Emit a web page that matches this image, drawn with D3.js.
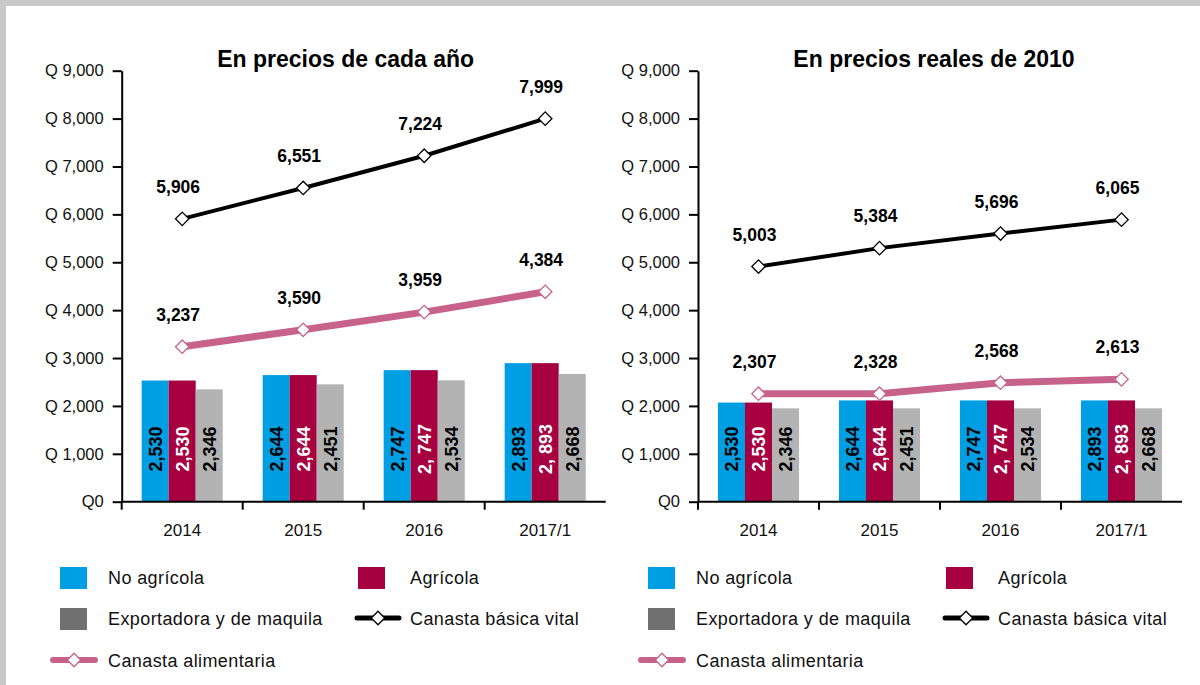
<!DOCTYPE html>
<html>
<head>
<meta charset="utf-8">
<script src="https://cdn.jsdelivr.net/npm/d3@7"></script>
<style>
    body { margin: 0; background: #fff; }
    svg { display: block; font-family: "Liberation Sans", Arial, sans-serif; }
</style>
</head>
<body>
<div id="chart"></div>
<script>
// categories and legend names
const years = ["2014", "2015", "2016", "2017/1"];
const barKeys = ["No agrícola", "Agrícola", "Exportadora y de maquila"];
const lineKeys = ["Canasta básica vital", "Canasta alimentaria"];
const yTicks = [0, 1000, 2000, 3000, 4000, 5000, 6000, 7000, 8000, 9000];

// printed bar labels (same in both panels)
const noAgricolaLabels = ["2,530", "2,644", "2,747", "2,893"];
const agricolaLabels = ["2,530", "2,644", "2, 747", "2, 893"];
const exportadoraLabels = ["2,346", "2,451", "2,534", "2,668"];

// left panel: current prices
const nominalNoAgricola = [2530, 2644, 2747, 2893];
const nominalAgricola = [2530, 2644, 2747, 2893];
const nominalExportadora = [2346, 2451, 2534, 2668];
const nominalBasicaVital = [5906, 6551, 7224, 7999];
const nominalAlimentaria = [3237, 3590, 3959, 4384];

// right panel: 2010 prices, marks as drawn
const realNoAgricola = [2070, 2115, 2115, 2115];
const realAgricola = [2070, 2115, 2115, 2115];
const realExportadora = [1950, 1950, 1950, 1950];
const realBasicaVital = [4910, 5295, 5600, 5890];
const realAlimentaria = [2255, 2255, 2485, 2555];
// right panel: printed values above the lines
const realBasicaVitalLabels = [5003, 5384, 5696, 6065];
const realAlimentariaLabels = [2307, 2328, 2568, 2613];

const colors = {
    "No agrícola": "#009ee2",
    "Agrícola": "#a60041",
    "Exportadora y de maquila": "#b3b3b3",
    "Canasta básica vital": "#000000",
    "Canasta alimentaria": "#c7628b"
};
const labelColors = ["#000", "#fff", "#000"];

const svg = d3.select("#chart").append("svg")
    .attr("width", 1200)
    .attr("height", 685);

// gray frame on the top and left
svg.append("rect").attr("x", 0).attr("y", 0).attr("width", 1200).attr("height", 6).attr("fill", "#c8c8c8");
svg.append("rect").attr("x", 0).attr("y", 0).attr("width", 6).attr("height", 685).attr("fill", "#c8c8c8");

const fmt = d3.format(",");

function drawPanel(opts) {
    const height = 431;
    const width = 484;

    const g = svg.append("g")
        .attr("transform", "translate(" + opts.left + "," + 70.7 + ")");

    const y = d3.scaleLinear().domain([0, 9000]).range([height, 0]);
    const x0 = d3.scaleBand().domain(years).range([0, width]);
    const bw = x0.bandwidth();
    const x1 = d3.scaleBand().domain(barKeys).range([bw * 0.165, bw * 0.835]);

    // title
    g.append("text")
        .attr("x", opts.titleX)
        .attr("y", -4)
        .attr("text-anchor", "middle")
        .style("font-size", "23px")
        .style("font-weight", "bold")
        .text(opts.title);

    // bars
    const barData = years.map((yr, i) => ({
        year: yr,
        values: barKeys.map((k, j) => ({ key: k, j: j, value: opts.bars[j][i], label: opts.barLabels[j][i] }))
    }));

    const groups = g.selectAll(".grp")
        .data(barData)
        .enter().append("g")
        .attr("transform", d => "translate(" + x0(d.year) + ",0)");

    groups.selectAll("rect")
        .data(d => d.values)
        .enter().append("rect")
        .attr("x", d => x1(d.key))
        .attr("y", d => y(d.value))
        .attr("width", x1.bandwidth())
        .attr("height", d => height - y(d.value))
        .attr("fill", d => colors[d.key]);

    groups.selectAll(".barlabel")
        .data(d => d.values)
        .enter().append("text")
        .attr("transform", d => "translate(" + (x1(d.key) + x1.bandwidth() / 2 + 6.5) + "," + y(1100) + ") rotate(-90)")
        .attr("text-anchor", "middle")
        .style("font-size", "18px")
        .style("font-weight", "bold")
        .attr("fill", d => labelColors[d.j])
        .text(d => d.label);

    // y axis
    const yAxis = g.append("g")
        .call(d3.axisLeft(y).tickValues(yTicks).tickSize(9).tickSizeOuter(0).tickPadding(9)
            .tickFormat(d => d === 0 ? "Q0" : "Q " + fmt(d)));
    yAxis.select(".domain").attr("stroke", "#000").attr("stroke-width", 2);
    yAxis.selectAll(".tick line").attr("stroke", "#000").attr("stroke-width", 2);
    yAxis.selectAll(".tick text")
        .attr("fill", "#111")
        .style("font-size", "16.5px")
        .style("font-family", "'Liberation Sans', Arial, sans-serif");

    // x axis, ticks on band edges
    g.append("line")
        .attr("x1", 0).attr("x2", width)
        .attr("y1", height).attr("y2", height)
        .attr("stroke", "#000").attr("stroke-width", 2);
    g.selectAll(".xtick")
        .data(years)
        .enter().append("line")
        .attr("x1", d => x0(d)).attr("x2", d => x0(d))
        .attr("y1", height).attr("y2", height + 8)
        .attr("stroke", "#000").attr("stroke-width", 2);
    g.selectAll(".xlabel")
        .data(years)
        .enter().append("text")
        .attr("x", d => x0(d) + bw / 2)
        .attr("y", height + 34)
        .attr("text-anchor", "middle")
        .style("font-size", "17px")
        .attr("fill", "#111")
        .text(d => d);

    // lines with diamonds and value labels
    const diamond = d3.symbol().type(d3.symbolSquare).size(90);
    opts.lines.forEach((vals, li) => {
        const key = lineKeys[li];
        const pts = years.map((yr, i) => ({ year: yr, value: vals[i], label: opts.lineLabels[li][i] }));
        const line = d3.line()
            .x(d => x0(d.year) + bw / 2)
            .y(d => y(d.value));

        g.append("path")
            .datum(pts)
            .attr("d", line)
            .attr("fill", "none")
            .attr("stroke", colors[key])
            .attr("stroke-width", li === 0 ? 4 : 7);

        g.selectAll(".pt" + li)
            .data(pts)
            .enter().append("path")
            .attr("d", diamond)
            .attr("transform", d => "translate(" + (x0(d.year) + bw / 2) + "," + y(d.value) + ") rotate(45)")
            .attr("fill", "#fff")
            .attr("stroke", li === 0 ? "#000" : colors[key])
            .attr("stroke-width", 1.3);

        g.selectAll(".vl" + li)
            .data(pts)
            .enter().append("text")
            .attr("x", d => x0(d.year) + bw / 2 - 4)
            .attr("y", d => y(d.value) - 26)
            .attr("text-anchor", "middle")
            .style("font-size", "17.5px")
            .style("font-weight", "bold")
            .text(d => fmt(d.label));
    });

    // legend
    const lg = svg.append("g").attr("transform", "translate(" + opts.legendX + ",0)");
    const legendFont = "18px";
    const sq = [
        { key: "No agrícola", x: 60, y: 567, fill: colors["No agrícola"] },
        { key: "Agrícola", x: 358, y: 567, fill: colors["Agrícola"] },
        { key: "Exportadora y de maquila", x: 60, y: 608, fill: "#707070" }
    ];
    lg.selectAll(".sq")
        .data(sq)
        .enter().append("rect")
        .attr("x", d => d.x).attr("y", d => d.y)
        .attr("width", 27).attr("height", 22)
        .attr("fill", d => d.fill);
    lg.selectAll(".sqt")
        .data(sq)
        .enter().append("text")
        .attr("x", d => d.x + 48 + (d.x > 100 ? 4 : 0))
        .attr("y", d => d.y + 17)
        .style("font-size", legendFont)
        .style("letter-spacing", "0.4px")
        .attr("fill", "#111")
        .text(d => d.key);

    const ln = [
        { key: "Canasta básica vital", x: 357, y: 618, w: 5 },
        { key: "Canasta alimentaria", x: 53, y: 660, w: 6 }
    ];
    ln.forEach((d, i) => {
        lg.append("line")
            .attr("x1", d.x).attr("x2", d.x + 42)
            .attr("y1", d.y).attr("y2", d.y)
            .attr("stroke", colors[d.key])
            .attr("stroke-width", d.w)
            .attr("stroke-linecap", "round");
        lg.append("path")
            .attr("d", diamond)
            .attr("transform", "translate(" + (d.x + 21) + "," + d.y + ") rotate(45)")
            .attr("fill", "#fff")
            .attr("stroke", i === 0 ? "#000" : colors[d.key])
            .attr("stroke-width", 1.3);
        lg.append("text")
            .attr("x", d.x + 53 + (i === 1 ? 2 : 0))
            .attr("y", d.y + 7)
            .style("font-size", legendFont)
            .style("letter-spacing", "0.4px")
            .attr("fill", "#111")
            .text(d.key);
    });
}

drawPanel({
    left: 121.7,
    legendX: 0,
    title: "En precios de cada año",
    titleX: 224,
    bars: [nominalNoAgricola, nominalAgricola, nominalExportadora],
    barLabels: [noAgricolaLabels, agricolaLabels, exportadoraLabels],
    lines: [nominalBasicaVital, nominalAlimentaria],
    lineLabels: [nominalBasicaVital, nominalAlimentaria]
});

drawPanel({
    left: 698,
    legendX: 588,
    title: "En precios reales de 2010",
    titleX: 236,
    bars: [realNoAgricola, realAgricola, realExportadora],
    barLabels: [noAgricolaLabels, agricolaLabels, exportadoraLabels],
    lines: [realBasicaVital, realAlimentaria],
    lineLabels: [realBasicaVitalLabels, realAlimentariaLabels]
});
</script>
</body>
</html>
